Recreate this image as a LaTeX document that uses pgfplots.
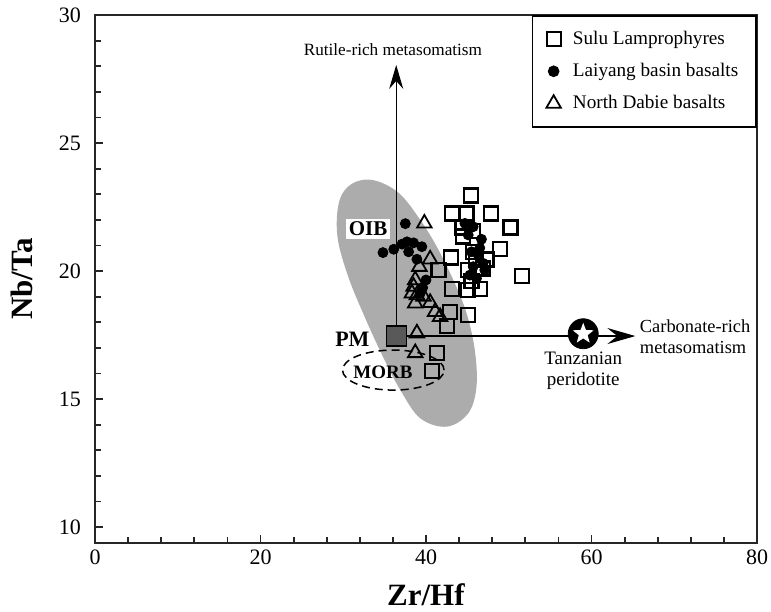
\documentclass[border=0pt]{standalone}
\usepackage{pgfplots}
\pgfplotsset{compat=1.18}
\usepackage{fontspec}
\setmainfont{Liberation Serif}
\usetikzlibrary{arrows.meta}

% white five-pointed star used inside the Tanzanian peridotite symbol
\pgfdeclareplotmark{wstar}{%
  \pgfpathmoveto{\pgfpointpolar{90}{\pgfplotmarksize}}%
  \pgfpathlineto{\pgfpointpolar{126}{0.42\pgfplotmarksize}}%
  \pgfpathlineto{\pgfpointpolar{162}{\pgfplotmarksize}}%
  \pgfpathlineto{\pgfpointpolar{198}{0.42\pgfplotmarksize}}%
  \pgfpathlineto{\pgfpointpolar{234}{\pgfplotmarksize}}%
  \pgfpathlineto{\pgfpointpolar{270}{0.42\pgfplotmarksize}}%
  \pgfpathlineto{\pgfpointpolar{306}{\pgfplotmarksize}}%
  \pgfpathlineto{\pgfpointpolar{342}{0.42\pgfplotmarksize}}%
  \pgfpathlineto{\pgfpointpolar{18}{\pgfplotmarksize}}%
  \pgfpathlineto{\pgfpointpolar{54}{0.42\pgfplotmarksize}}%
  \pgfpathclose
  \pgfusepathqfill}

\pgfplotstableread{
x y
45.4 22.95
43.1 22.25
44.9 22.25
47.9 22.25
50.2 21.70
44.4 21.70
45.7 21.55
44.5 21.35
48.9 20.85
43.0 20.53
45.7 20.75
47.3 20.45
46.0 20.50
45.1 20.05
46.9 20.10
51.6 19.80
41.5 20.05
45.5 19.60
43.1 19.30
45.1 19.25
46.5 19.30
42.9 18.40
45.1 18.28
42.5 17.85
41.3 16.80
40.7 16.10
}\sulu

\pgfplotstableread{
x y
37.5 21.85
34.8 20.72
36.1 20.85
37.1 21.05
37.7 21.14
38.5 21.10
39.5 20.95
37.9 20.75
38.9 20.46
40.0 19.65
39.6 19.35
39.3 19.13
44.7 21.86
45.7 21.73
45.1 21.41
46.7 21.24
45.5 20.75
46.3 20.63
46.9 20.30
45.7 20.17
45.3 19.84
47.1 20.04
46.1 19.71
46.5 20.90
}\laiyang

\pgfplotstableread{
x y
39.8 21.86
40.5 20.46
39.2 20.17
38.7 19.65
38.5 19.39
38.3 19.13
38.9 19.06
39.7 19.00
38.7 18.74
40.5 18.76
41.1 18.41
41.7 18.21
38.9 17.57
38.7 16.80
}\dabie

\begin{document}
\begin{tikzpicture}
\begin{axis}[
  scale only axis,
  width=331pt, height=264pt,
  xmin=0, xmax=80, ymin=9.375, ymax=30,
  xtick={0,20,...,80}, ytick={10,15,...,30},
  minor x tick num=4, minor y tick num=4,
  tick align=inside,
  xtick pos=bottom, ytick pos=left,
  major tick length=4pt, minor tick length=2.8pt,
  axis line style={line width=1pt, black!85},
  every tick/.style={line width=0.9pt, black!85},
  /pgf/number format/assume math mode=true,
  ticklabel style={font=\fontsize{11}{13}\selectfont},
  yticklabel style={xshift=-3.5pt},
  xlabel={\textbf{Zr/Hf}}, ylabel={\textbf{Nb/Ta}},
  label style={font=\fontsize{15.5}{18}\selectfont},
  xlabel style={at={(axis description cs:0.5,-0.098)}, anchor=center},
  ylabel style={at={(axis description cs:-0.110,0.5)}, anchor=center},
  legend style={at={(1,1)}, anchor=north east, draw=black, line width=0.8pt,
    font=\fontsize{9.6}{11}\selectfont, inner xsep=7pt, inner ysep=5.5pt,
    row sep=4pt, /tikz/every odd column/.append style={column sep=4pt}},
  legend cell align=left,
  clip=false,
]
% OIB field
\fill[gray!65] plot[smooth cycle, tension=0.6] coordinates {
  (33.6,23.55) (36.7,23.05) (39.3,22.00) (41.3,20.95) (43.3,19.65)
  (44.9,18.35) (45.9,16.90) (46.1,15.48) (45.1,14.44) (42.5,13.92)
  (39.3,14.25) (36.9,15.35) (34.8,16.65) (32.6,18.20) (30.6,19.78)
  (29.3,21.34) (29.5,22.70) (31.0,23.40)};
% metasomatism arrows from PM
\draw[line width=0.6pt, -{Stealth[length=12pt, width=7pt, inset=4pt]}]
  (36.4,17.46) -- (36.4,28.05);
\draw[line width=0.6pt, -{Stealth[length=14pt, width=8pt, inset=5pt]}]
  (36.4,17.46) -- (65.3,17.46);
% MORB field
\draw[line width=0.75pt, dash pattern=on 4pt off 2.5pt]
  (36.05,16.13) ellipse [x radius=25.4pt, y radius=10pt];

\addplot[only marks, mark=square, mark size=3.5pt, black,
  mark options={line width=1.1pt}] table {\sulu};
\addlegendentry{Sulu Lamprophyres}
\addplot[only marks, mark=*, mark size=2.5pt, black] table {\laiyang};
\addlegendentry{Laiyang basin basalts}
\addplot[only marks, mark=triangle, mark size=4.2pt, black,
  mark options={line width=0.9pt}] table {\dabie};
\addlegendentry{North Dabie basalts}

% primitive mantle
\addplot[forget plot, only marks, mark=square*, mark size=5pt,
  mark options={fill=black!65, draw=black, line width=0.6pt}]
  coordinates {(36.4,17.46)};
% Tanzanian peridotite
\addplot[forget plot, only marks, mark=*, mark size=7.5pt, black]
  coordinates {(59.0,17.55)};
\addplot[forget plot, only marks, mark=wstar, mark size=5.5pt,
  mark options={fill=white, draw=none}]
  coordinates {(59.0,17.55)};

\node[font=\fontsize{8.6}{10}\selectfont] at (36.0,28.63) {Rutile-rich metasomatism};
\node[font=\fontsize{9.2}{10.5}\selectfont, align=left, anchor=west]
  at (65.0,17.42) {Carbonate-rich\\metasomatism};
\node[font=\fontsize{9.5}{10.5}\selectfont, align=center]
  at (59.0,16.12) {Tanzanian\\peridotite};
\node[font=\fontsize{10.5}{12}\selectfont\bfseries, fill=white, inner sep=1.5pt]
  at (33.0,21.64) {OIB};
\node[font=\fontsize{11}{12}\selectfont\bfseries] at (31.1,17.34) {PM};
\node[font=\fontsize{9.5}{11}\selectfont\bfseries] at (34.8,16.05) {MORB};
\end{axis}
\pgfresetboundingbox
\path ([shift={(-47.5pt,-34pt)}]current axis.south west)
  rectangle ([shift={(7pt,7.5pt)}]current axis.north east);
\end{tikzpicture}
\end{document}
